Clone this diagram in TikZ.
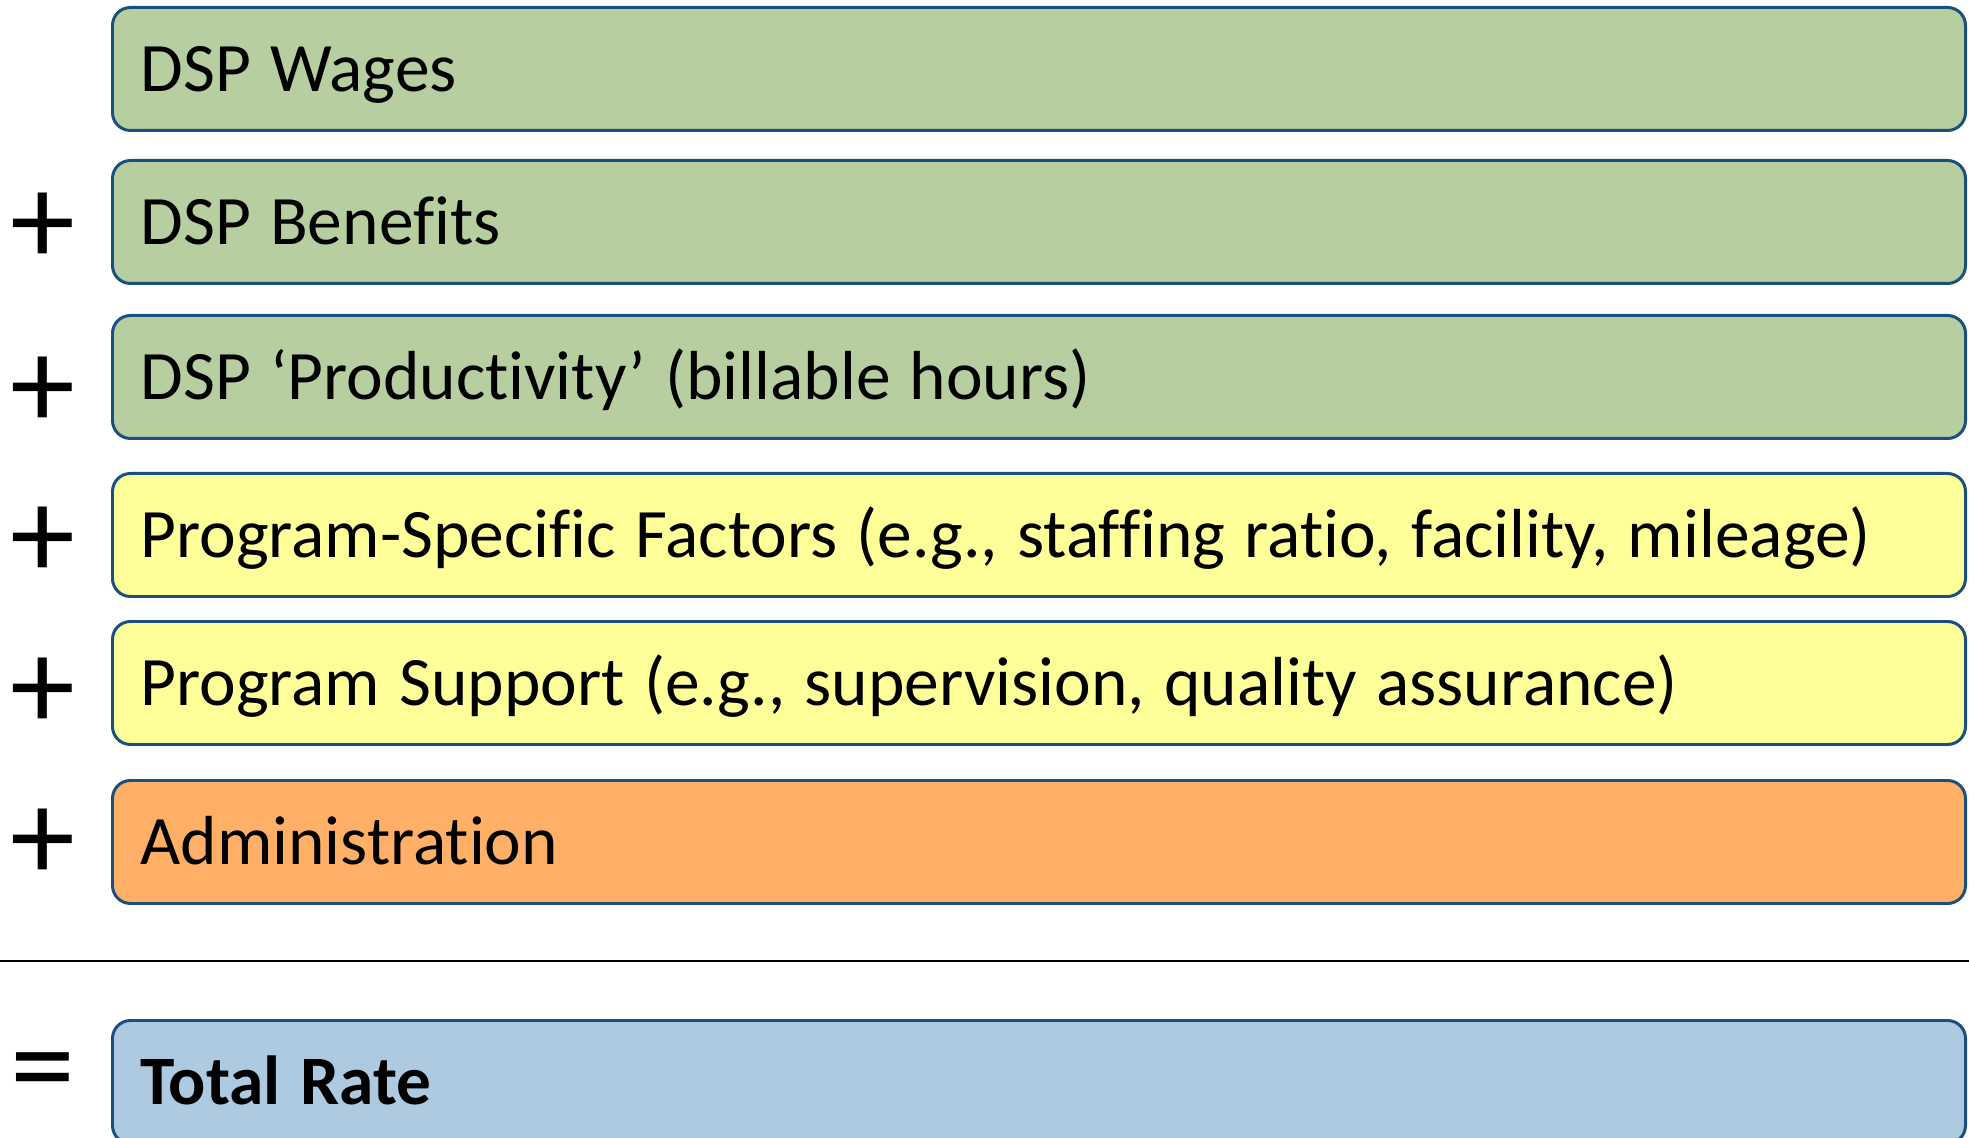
\documentclass[tikz,border=0pt]{standalone}
\usepackage{fontspec}
\setmainfont[Ligatures={NoCommon,NoRequired}, WordSpace=1.23]{Carlito}
\usepackage{xcolor}
\definecolor{dspgreen}{HTML}{B6CEA0}
\definecolor{progyellow}{HTML}{FFFF99}
\definecolor{adminorange}{HTML}{FFB066}
\definecolor{totalblue}{HTML}{ADCAE0}
\definecolor{edgeblue}{HTML}{1B4F80}
\tikzset{costbox/.style={draw=edgeblue, line width=1.7pt, rounded corners=0.36cm,
   anchor=north west, minimum height=2.46cm, text width=35.94cm, inner xsep=0.56cm,
   text height=25.4pt, text depth=0pt,
   align=justify, font=\fontsize{39.5}{46}\selectfont},
 opsign/.style={font=\fontsize{74}{78}\selectfont, inner sep=0pt},
 }

\begin{document}
\begin{tikzpicture}
        \useasboundingbox (0, 0) rectangle (39.38, -22.76);
        \node[costbox, fill=dspgreen] (wages) at (2.22, -.12) {DSP Wages};
        \node[costbox, fill=dspgreen] (benefits) at (2.22, -3.18) {DSP Benefits};
        \node[costbox, fill=dspgreen] (productivity) at (2.22, -6.28) {DSP ‘Productivity’ (billable hours)};
        \node[costbox, fill=progyellow] (factors) at (2.22, -9.44) {Program-Specific Factors (e.g., staffing ratio, facility, mileage)};
        \node[costbox, fill=progyellow] (support) at (2.22, -12.4) {Program Support (e.g., supervision, quality assurance)};
        \node[costbox, fill=adminorange] (admin) at (2.22, -15.58) {Administration};
        \node[costbox, fill=totalblue] (total) at (2.22, -20.38) {\textbf{Total Rate}};
        \node[opsign] (plusb) at (.86, -4.58) {+};
        \node[opsign] (plusp) at (.86, -7.86) {+};
        \node[opsign] (plusf) at (.86, -10.86) {+};
        \node[opsign] (pluss) at (.86, -13.88) {+};
        \node[opsign] (plusa) at (.86, -16.9) {+};
        \node[opsign] (equals) at (.86, -21.62) {=};
        \coordinate (rulel) at (0, -19.22);
        \coordinate (ruler) at (39.38, -19.22);
        \draw[line width=1.3pt] (rulel) -- (ruler);
    \end{tikzpicture}
\end{document}
